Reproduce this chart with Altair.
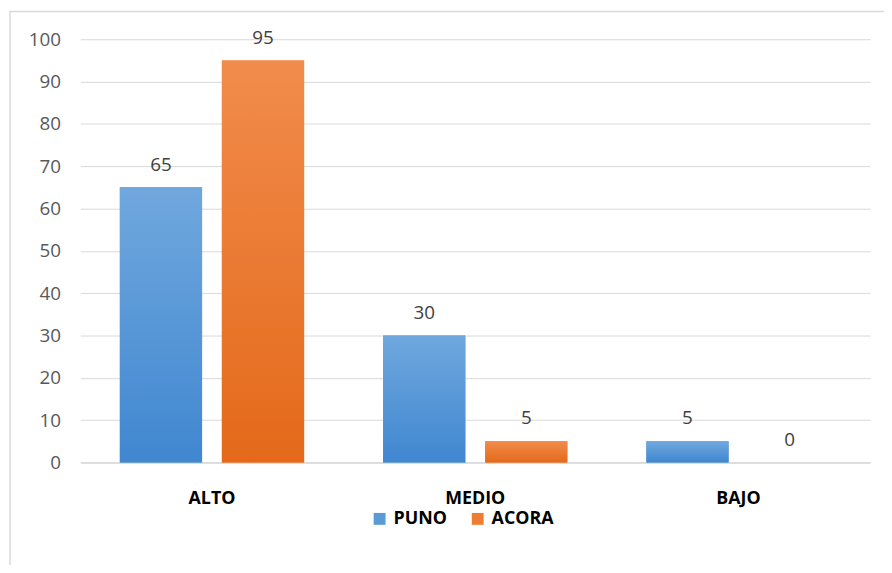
import altair as alt
import pandas as pd

categories = ["ALTO", "MEDIO", "BAJO"]
series = ["PUNO", "ACORA"]
puno = [65, 30, 5]
acora = [95, 5, 0]
y_ticks = [0, 10, 20, 30, 40, 50, 60, 70, 80, 90, 100]

rows = []
for i, c in enumerate(categories):
    rows.append({"nivel": c, "grupo": "PUNO", "valor": puno[i]})
    rows.append({"nivel": c, "grupo": "ACORA", "valor": acora[i]})
df = pd.DataFrame(rows)

FONT = "Open Sans"
BLUE = "#5B9BD5"
ORANGE = "#ED7D31"

x_enc = alt.X(
    "nivel:N", sort=categories,
    scale=alt.Scale(domain=categories, paddingInner=0.3, paddingOuter=0.15),
    axis=alt.Axis(title=None, labelAngle=0, labelFont=FONT, labelFontSize=18,
                  labelFontWeight="bold", labelColor="#000000", labelPadding=27,
                  ticks=False, domainColor="#D9D9D9", domainWidth=1.5, grid=False),
)
xo_enc = alt.XOffset("grupo:N", sort=series,
                     scale=alt.Scale(domain=series, paddingInner=0.194, paddingOuter=0))
y_enc = alt.Y(
    "valor:Q", scale=alt.Scale(domain=[0, 100]),
    axis=alt.Axis(title=None, values=y_ticks, labelFont=FONT, labelFontSize=19,
                  labelColor="#595959", labelPadding=20, ticks=False, domain=False,
                  gridColor="#D9D9D9", gridWidth=1),
)

base = alt.Chart(df).mark_bar().encode(
    x=x_enc, xOffset=xo_enc, y=y_enc,
    color=alt.Color("grupo:N", sort=series,
                    scale=alt.Scale(domain=series, range=[BLUE, ORANGE]),
                    legend=alt.Legend(title=None, orient="none", direction="horizontal",
                                      legendX=293, legendY=475, symbolType="square",
                                      symbolSize=144, symbolStrokeWidth=0,
                                      labelFont=FONT, labelFontSize=18,
                                      labelFontWeight="bold", labelColor="#000000",
                                      labelOffset=5, columnPadding=22)),
)

grad_blue = alt.LinearGradient(gradient="linear", x1=0, x2=0, y1=0, y2=1, stops=[
    alt.GradientStop(color="#70A8DE", offset=0), alt.GradientStop(color="#4087D0", offset=1)])
grad_orange = alt.LinearGradient(gradient="linear", x1=0, x2=0, y1=0, y2=1, stops=[
    alt.GradientStop(color="#F18C4C", offset=0), alt.GradientStop(color="#E4691A", offset=1)])

puno_bars = alt.Chart(df).transform_filter(alt.datum.grupo == "PUNO").mark_bar(
    color=grad_blue).encode(x=x_enc, xOffset=xo_enc, y=y_enc)
acora_bars = alt.Chart(df).transform_filter(alt.datum.grupo == "ACORA").mark_bar(
    color=grad_orange).encode(x=x_enc, xOffset=xo_enc, y=y_enc)

labels = alt.Chart(df).mark_text(font=FONT, fontSize=19, color="#404040",
                                 baseline="middle", dy=-23).encode(
    x=x_enc, xOffset=xo_enc, y=y_enc, text=alt.Text("valor:Q"))

border = alt.Chart(alt.Data(values=[{"a": 1}])).mark_rect(
    filled=False, stroke="#D9D9D9", strokeWidth=1.5).encode(
    x=alt.value(-71), x2=alt.value(900), y=alt.value(-28), y2=alt.value(600))

chart = alt.layer(border, base, puno_bars, acora_bars, labels).properties(
    width=797, height=427,
    padding={"left": 73, "top": 29, "right": 14, "bottom": 101},
    autosize=alt.AutoSizeParams(type="none"),
    background="white",
).configure_view(stroke=None)

chart.save("out.html", embed_options={"renderer": "svg", "actions": False})
